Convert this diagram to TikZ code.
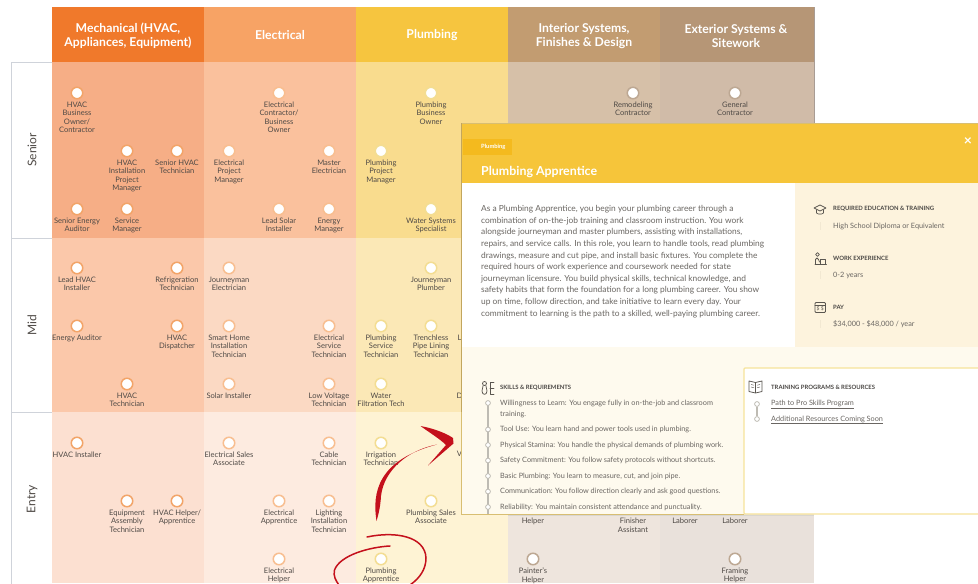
\documentclass[tikz,border=0pt]{standalone}
\usepackage{fontspec}
\setmainfont{Lato}
\definecolor{labelc}{HTML}{4F4A46}
\definecolor{ringm}{HTML}{F2A468}
\definecolor{ringe}{HTML}{F8BE90}
\definecolor{ringp}{HTML}{F3DD92}
\definecolor{ringi}{HTML}{BDA893}
\definecolor{scribble}{HTML}{C4101C}
\definecolor{bodyc}{HTML}{6A6662}
\definecolor{headc}{HTML}{4A4744}
\definecolor{iconc}{HTML}{5A5650}
\definecolor{tlc}{HTML}{BEBBB3}
\definecolor{framec}{HTML}{CFD3DA}
\definecolor{mh}{HTML}{F0792B}\definecolor{ms}{HTML}{F6AE86}\definecolor{mm}{HTML}{FBC8AA}\definecolor{me}{HTML}{FCE0D1}
\definecolor{eh}{HTML}{F7A365}\definecolor{es}{HTML}{FAC19D}\definecolor{em}{HTML}{FBD9C3}\definecolor{ee}{HTML}{FDEBE0}
\definecolor{ph}{HTML}{F6C53F}\definecolor{ps}{HTML}{F9DC8E}\definecolor{pm}{HTML}{FBE8B6}\definecolor{pe}{HTML}{FEF3D4}
\definecolor{ih}{HTML}{C29C71}\definecolor{is}{HTML}{D6C0A8}\definecolor{im}{HTML}{E6D9CA}\definecolor{ie}{HTML}{EEE5DD}
\definecolor{xh}{HTML}{B69676}\definecolor{xs}{HTML}{D0BBA8}\definecolor{xm}{HTML}{E0D4C8}\definecolor{xe}{HTML}{E9E1DB}
\definecolor{popbg}{HTML}{FEFAEE}
\definecolor{popright}{HTML}{FDF3DD}
\definecolor{pophead}{HTML}{F6C53A}
\definecolor{poptag}{HTML}{F4BA1E}
\definecolor{popedge}{HTML}{D8BE72}
\definecolor{popedgedark}{HTML}{C2A65E}
\definecolor{popshadow}{HTML}{D9D6D0}
\definecolor{cardedge}{HTML}{F6E39B}
\definecolor{edgegrey}{HTML}{A89C94}
\definecolor{faintv}{HTML}{F2E8D2}
\tikzset{
  jobdot/.style={circle,fill=white,draw=#1,line width=1.5pt,minimum size=11.5pt,inner sep=0pt},
  joblabel/.style={anchor=north,inner sep=0pt,align=center,text=labelc,font=\fontsize{7.55}{8.4}\selectfont},
  colhead/.style={text=white,align=center,font=\bfseries\fontsize{12.2}{14.4}\selectfont,inner sep=0pt},
  rowlabel/.style={rotate=90,text=labelc,font=\fontsize{12}{14}\selectfont,inner sep=0pt},
  popbody/.style={anchor=north west,inner sep=0pt,align=left,text=bodyc,font=\fontsize{8.38}{11.6}\selectfont},
  smallhead/.style={anchor=west,inner sep=0pt,text=headc,font=\bfseries\fontsize{5.9}{7}\selectfont},
  smallval/.style={anchor=west,inner sep=0pt,text=bodyc,font=\fontsize{7.3}{9}\selectfont},
  skillitem/.style={anchor=west,inner sep=0pt,text=bodyc,font=\fontsize{7.3}{9}\selectfont},
  tldot/.style={circle,fill=white,draw=tlc,line width=.8pt,minimum size=4.8pt,inner sep=0pt},
  iconline/.style={draw=iconc,line width=.75pt,line cap=round,line join=round},
  cutletter/.style={inner sep=0pt,text=labelc,font=\fontsize{7.55}{8.4}\selectfont},
}
\newcommand{\jobnode}[5]{%
  \node[jobdot=#5] (#1) at (#2,#3) {};
  \node[joblabel] (#1-l) at (#2,#3+8.8) {#4};
}
\begin{document}
\begin{tikzpicture}[x=1pt,y=-1pt]
\useasboundingbox (0,0) rectangle (978,584);
\clip (0,0) rectangle (978,584);
\fill[white] (0,0) rectangle (978,584);
% frame of the row labels
\draw[draw=framec,line width=1pt] (52,62) -- (11,62) -- (11,584) (11,238) -- (52,238) (11,412) -- (52,412);
% column fills
\foreach \xa/\xb/\h/\s/\m/\e in {
 52/204/mh/ms/mm/me,
 204/356/eh/es/em/ee,
 356/508/ph/ps/pm/pe,
 508/660/ih/is/im/ie,
 660/814/xh/xs/xm/xe}{
  \fill[color=\h] (\xa,7) rectangle (\xb,62);
  \fill[color=\s] (\xa,62) rectangle (\xb,238);
  \fill[color=\m] (\xa,238) rectangle (\xb,412);
  \fill[color=\e] (\xa,412) rectangle (\xb,583);
}
\draw[draw=edgegrey,line width=.8pt] (814,7) -- (814,124);
% column and row headings
\node[colhead] (hmech) at (128,35.8) {Mechanical (HVAC,\\Appliances, Equipment)};
\node[colhead] (helec) at (280,35.3) {Electrical};
\node[colhead] (hplum) at (432,35.3) {Plumbing};
\node[colhead] (hint) at (584,35.8) {Interior Systems,\\Finishes \& Design};
\node[colhead] (hext) at (736,35.8) {Exterior Systems \&\\Sitework};
\node[rowlabel] (rs) at (32,150) {Senior};
\node[rowlabel] (rm) at (32,325) {Mid};
\node[rowlabel] (re) at (32,499) {Entry};
% Senior
\jobnode{a1}{77}{93}{HVAC\\Business\\Owner/\\Contractor}{ringm}
\jobnode{a2}{127}{151}{HVAC\\Installation\\Project\\Manager}{ringm}
\jobnode{a3}{177}{151}{Senior HVAC\\Technician}{ringm}
\jobnode{a4}{77}{209}{Senior Energy\\Auditor}{ringm}
\jobnode{a5}{127}{209}{Service\\Manager}{ringm}
\jobnode{a6}{229}{151}{Electrical\\Project\\Manager}{ringe}
\jobnode{a7}{279}{93}{Electrical\\Contractor/\\Business\\Owner}{ringe}
\jobnode{a8}{329}{151}{Master\\Electrician}{ringe}
\jobnode{a9}{279}{209}{Lead Solar\\Installer}{ringe}
\jobnode{a10}{329}{209}{Energy\\Manager}{ringe}
\jobnode{a11}{431}{93}{Plumbing\\Business\\Owner}{ringp}
\jobnode{a12}{381}{151}{Plumbing\\Project\\Manager}{ringp}
\jobnode{a13}{431}{209}{Water Systems\\Specialist}{ringp}
\jobnode{a14}{633}{93}{Remodeling\\Contractor}{ringi}
\jobnode{a15}{735}{93}{General\\Contractor}{ringi}
% Mid
\jobnode{b1}{77}{268}{Lead HVAC\\Installer}{ringm}
\jobnode{b2}{177}{268}{Refrigeration\\Technician}{ringm}
\jobnode{b3}{229}{268}{Journeyman\\Electrician}{ringe}
\jobnode{b4}{431}{268}{Journeyman\\Plumber}{ringp}
\jobnode{b5}{77}{326}{Energy Auditor}{ringm}
\jobnode{b6}{177}{326}{HVAC\\Dispatcher}{ringm}
\jobnode{b7}{229}{326}{Smart Home\\Installation\\Technician}{ringe}
\jobnode{b8}{329}{326}{Electrical\\Service\\Technician}{ringe}
\jobnode{b9}{381}{326}{Plumbing\\Service\\Technician}{ringp}
\jobnode{b10}{431}{326}{Trenchless\\Pipe Lining\\Technician}{ringp}
\jobnode{b11}{127}{384}{HVAC\\Technician}{ringm}
\jobnode{b12}{229}{384}{Solar Installer}{ringe}
\jobnode{b13}{329}{384}{Low Voltage\\Technician}{ringe}
\jobnode{b14}{381}{384}{Water\\Filtration Tech}{ringp}
% Entry
\jobnode{c1}{77}{443}{HVAC Installer}{ringm}
\jobnode{c2}{127}{501}{Equipment\\Assembly\\Technician}{ringm}
\jobnode{c3}{177}{501}{HVAC Helper/\\Apprentice}{ringm}
\jobnode{c4}{229}{443}{Electrical Sales\\Associate}{ringe}
\jobnode{c5}{329}{443}{Cable\\Technician}{ringe}
\jobnode{c6}{279}{501}{Electrical\\Apprentice}{ringe}
\jobnode{c7}{329}{501}{Lighting\\Installation\\Technician}{ringe}
\jobnode{c8}{279}{559}{Electrical\\Helper}{ringe}
\jobnode{c9}{381}{443}{Irrigation\\Technician}{ringp}
\jobnode{c10}{431}{501}{Plumbing Sales\\Associate}{ringp}
\jobnode{c11}{381}{559}{Plumbing\\Apprentice}{ringp}
\jobnode{c16}{533}{559}{Painter's\\Helper}{ringi}
\jobnode{c17}{735}{559}{Framing\\Helper}{ringi}
% labels whose upper part lies under the popup
\node[joblabel] (c12-l) at (533,518.2) {Helper};
\node[joblabel] (c13-l) at (633,518.2) {Finisher\\Assistant};
\node[joblabel] (c14-l) at (685,518.2) {Laborer};
\node[joblabel] (c15-l) at (735,518.2) {Laborer};
% labels cut by the popup edge
\node[cutletter] (cutl) at (459.5,338) {L};
\node[cutletter] (cutd) at (459.5,395.5) {D};
\node[cutletter] (cutv) at (459.5,454) {V};
% popup
\fill[popbg] (461,123) rectangle (978,514);
\fill[white] (461,183) rectangle (795,347);
\fill[popright] (795,183) rectangle (978,347);
\fill[pophead] (461,123) rectangle (978,183);
\fill[poptag] (463,139) rectangle (512,155);
\draw[draw=popedge,line width=1pt] (978,123) -- (461,123) -- (461,514) -- (744,514);
\draw[draw=popedgedark,line width=1pt] (461,123) -- (461,412);
\draw[draw=popshadow,line width=.7pt] (508,515.2) -- (814,515.2);
\node[anchor=west,inner sep=0pt,text=white,font=\bfseries\fontsize{5.8}{7}\selectfont] (ptag) at (481,147) {Plumbing};
\node[anchor=west,inner sep=0pt,text=white,font=\bfseries\fontsize{12.4}{14}\selectfont] (ptitle) at (481,172.5) {Plumbing Apprentice};
\node[inner sep=0pt,text=white,font=\bfseries\fontsize{14}{14}\selectfont] (pclose) at (968,141.5) {×};
\node[popbody] (pbody) at (481,205.3) {As a Plumbing Apprentice, you begin your plumbing career through a\\
combination of on-the-job training and classroom instruction. You work\\
alongside journeyman and master plumbers, assisting with installations,\\
repairs, and service calls. In this role, you learn to handle tools, read plumbing\\
drawings, measure and cut pipe, and install basic fixtures. You complete the\\
required hours of work experience and coursework needed for state\\
journeyman licensure. You build physical skills, technical knowledge, and\\
safety habits that form the foundation for a long plumbing career. You show\\
up on time, follow direction, and take initiative to learn every day. Your\\
commitment to learning is the path to a skilled, well-paying plumbing career.};
% right panel
\node[smallhead] (hedu) at (833,209) {REQUIRED EDUCATION \& TRAINING};
\node[smallval] (vedu) at (833,226) {High School Diploma or Equivalent};
\node[smallhead] (hwork) at (833,258) {WORK EXPERIENCE};
\node[smallval] (vwork) at (833,275) {0-2 years};
\node[smallhead] (hpay) at (833,307) {PAY};
\node[smallval] (vpay) at (833,324) {\$34,000 - \$48,000 / year};
\foreach \yy in {226,275,324} \draw[draw=faintv,line width=.8pt] (820,\yy-4) -- (820,\yy+4);
% cap icon
\draw[iconline] (814,208) -- (820,205) -- (826,208) -- (820,211) -- cycle;
\draw[iconline] (816.5,210) -- (816.5,213) .. controls (818,214.5) and (822,214.5) .. (823.5,213) -- (823.5,210);
% person with laptop icon
\draw[iconline] (817.5,254.5) circle (1.8);
\draw[iconline] (815.5,264.5) -- (815.5,259.5) .. controls (816,257.5) and (818,257.5) .. (818.5,259.5) -- (819.5,262);
\draw[iconline] (820,259.5) -- (825.5,259.5) -- (825.5,264) -- (820,264) -- cycle (815,264.5) -- (826.5,264.5);
% pay icon
\draw[iconline,rounded corners=1pt] (815,302.5) rectangle (825.5,312.5);
\draw[iconline] (815,305) -- (825.5,305);
\node[inner sep=0pt,text=iconc,font=\fontsize{5}{5}\selectfont] (ipay) at (820.2,309) {\$ \$};
% skills
\node[smallhead] (hskill) at (500,387.5) {SKILLS \& REQUIREMENTS};
\draw[iconline] (484.5,383.5) circle (2) (483,386) -- (482,391) .. controls (482,395.5) and (487,395.5) .. (487,391) -- (486,386);
\draw[iconline] (494,382) -- (490,382) -- (490,394) -- (494,394) (490,388) -- (494,388);
\coordinate (tltop) at (488,403);
\coordinate (tlbot) at (488,514);
\draw[draw=tlc,line width=1.1pt] (tltop) -- (tlbot);
\foreach \nm/\yy/\tx in {s1/403/{Willingness to Learn: You engage fully in on-the-job and classroom},
 s2/429.5/{Tool Use: You learn hand and power tools used in plumbing.},
 s3/445/{Physical Stamina: You handle the physical demands of plumbing work.},
 s4/460.5/{Safety Commitment: You follow safety protocols without shortcuts.},
 s5/476/{Basic Plumbing: You learn to measure, cut, and join pipe.},
 s6/491.5/{Communication: You follow direction clearly and ask good questions.},
 s7/507/{Reliability: You maintain consistent attendance and punctuality.}}{
  \node[tldot] (\nm-d) at (488,\yy) {};
  \node[skillitem] (\nm) at (500,\yy) {\tx};
}
\node[skillitem] (s1b) at (500,414) {training.};
% training card
\draw[draw=cardedge,line width=1.2pt,fill=white,rounded corners=1pt] (990,368) -- (744,368) -- (744,514) -- (990,514);
\draw[iconline] (749,381) -- (755.5,382.5) -- (762,381) -- (762,391.5) -- (755.5,393) -- (749,391.5) -- cycle (755.5,382.5) -- (755.5,393);
\draw[draw=iconc,line width=.4pt] (751,384.5) -- (754,385.2) (751,387) -- (754,387.7) (757,385.2) -- (760,384.5) (757,387.7) -- (760,387);
\node[smallhead] (htrain) at (771,387) {TRAINING PROGRAMS \& RESOURCES};
\node[smallval] (l1) at (771,403.5) {Path to Pro Skills Program};
\node[smallval] (l2) at (771,419) {Additional Resources Coming Soon};
\draw[draw=bodyc,line width=.4pt] ([yshift=-.8pt]l1.south west) -- ([yshift=-.8pt]l1.south east);
\draw[draw=bodyc,line width=.4pt] ([yshift=-.8pt]l2.south west) -- ([yshift=-.8pt]l2.south east);
\node[tldot] (t1) at (757,404) {};
\node[tldot] (t2) at (757,419) {};
\draw[draw=tlc,line width=1.1pt] (t1) -- (t2);
% red scribbles
\fill[scribble] (376.5,521) .. controls (372,492) and (378,460) .. (437,444.5) .. controls (408,450) and (384,470) .. (381,496) .. controls (380.5,505) and (379,513) .. (376.5,521) -- cycle;
\fill[scribble] (420.5,426) .. controls (432,428) and (446,433) .. (453,438) -- (453.5,443.5) -- (428,465.5) -- (446,445) .. controls (440,439) and (430,433) .. (420.5,426) -- cycle;
\draw[draw=scribble,line width=1.5pt,line cap=round] (367,537) .. controls (395,531) and (425,536) .. (426,558) .. controls (426,569) and (420,578) .. (410,585);
\draw[draw=scribble,line width=1.5pt,line cap=round] (390,546) .. controls (370,547) and (340,555) .. (334.5,570) .. controls (333,576) and (336,581) .. (339,585);
\end{tikzpicture}
\end{document}
